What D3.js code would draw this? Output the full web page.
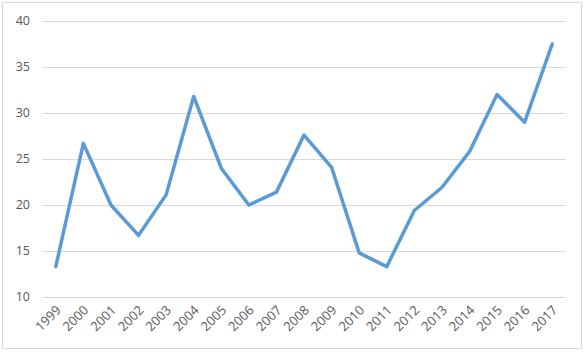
<!DOCTYPE html>
<html lang="en">
<head>
<meta charset="utf-8">
<title>Line chart</title>
<script src="https://d3js.org/d3.v7.min.js"></script>
<style>
  body { margin: 0; background: #fff; }
  text { font-family: "Open Sans", "Liberation Sans", sans-serif; fill: #595959; font-size: 12.5px; }
  .xlab { font-size: 13px; }
</style>
</head>
<body>
<svg id="chart"></svg>
<script>
var years = ["1999","2000","2001","2002","2003","2004","2005","2006","2007","2008",
             "2009","2010","2011","2012","2013","2014","2015","2016","2017"];
var values = [13.3, 26.7, 20, 16.7, 21.1, 31.8, 24, 20, 21.4, 27.6,
              24.1, 14.8, 13.3, 19.4, 21.9, 25.8, 32, 29, 37.5];
var yTicks = [10, 15, 20, 25, 30, 35, 40];

var W = 586, H = 352;
var svg = d3.select('#chart').attr('width', W).attr('height', H);

// chart border
svg.append('rect')
  .attr('x', 2.5).attr('y', 2.5)
  .attr('width', 579).attr('height', 346)
  .attr('fill', '#fff').attr('stroke', '#d9d9d9');

// plot area (note: "top" is taken by window.top)
var pLeft = 42, pRight = 566, pTop = 21, pBottom = 297;

var x = d3.scalePoint().domain(years).range([pLeft, pRight]).padding(0.5);
var y = d3.scaleLinear().domain([10, 40]).range([pBottom, pTop]);

// gridlines
svg.append('g').selectAll('line').data(yTicks).enter()
  .append('line')
  .attr('x1', pLeft).attr('x2', pRight)
  .attr('y1', function(d) { return Math.round(y(d)) + 0.5; })
  .attr('y2', function(d) { return Math.round(y(d)) + 0.5; })
  .attr('stroke', '#d9d9d9').attr('stroke-width', 1);

// y labels
svg.append('g').selectAll('text').data(yTicks).enter()
  .append('text')
  .attr('x', 30)
  .attr('y', function(d) { return y(d); })
  .attr('dy', '0.35em')
  .attr('text-anchor', 'end')
  .text(function(d) { return d; });

// x labels
svg.append('g').selectAll('text').data(years).enter()
  .append('text')
  .attr('class', 'xlab')
  .attr('text-anchor', 'end')
  .attr('transform', function(d) { return 'translate(' + (x(d) + 6) + ',' + 311 + ') rotate(-45)'; })
  .text(function(d) { return d; });

// line
var line = d3.line()
  .x(function(d, i) { return x(years[i]); })
  .y(function(d) { return y(d); });

svg.append('path')
  .datum(values)
  .attr('d', line)
  .attr('fill', 'none')
  .attr('stroke', '#5b9bd5')
  .attr('stroke-width', 3.5)
  .attr('stroke-linejoin', 'round')
  .attr('stroke-linecap', 'round');
</script>
</body>
</html>
